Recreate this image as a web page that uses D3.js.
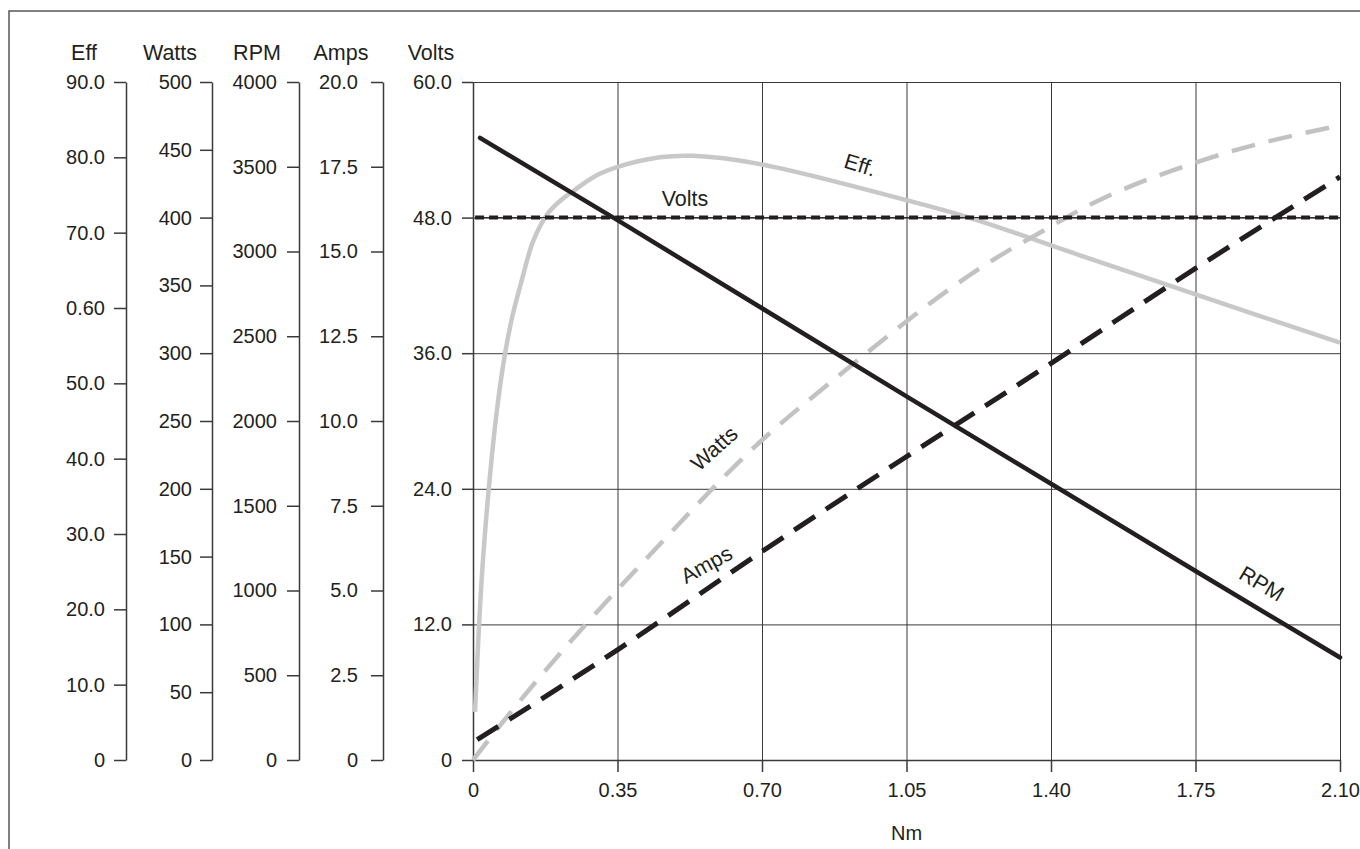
<!DOCTYPE html>
<html>
<head>
<meta charset="utf-8">
<script src="https://cdn.jsdelivr.net/npm/d3@7"></script>
<style>
  html, body { margin: 0; padding: 0; background: #fff; }
  svg { display: block; }
  text { font-family: "Liberation Sans", Arial, Helvetica, sans-serif; fill: #231f20; }
</style>
</head>
<body>
<svg id="chart" width="1360" height="849"></svg>
<script>
// ---------- data ----------
const torqueTicks  = [0, 0.35, 0.70, 1.05, 1.40, 1.75, 2.10];
const torqueLabels = ["0", "0.35", "0.70", "1.05", "1.40", "1.75", "2.10"];

const voltsTicks  = [0, 12, 24, 36, 48, 60];
const voltsLabels = ["0", "12.0", "24.0", "36.0", "48.0", "60.0"];

const effTicks  = [0, 10, 20, 30, 40, 50, 60, 70, 80, 90];
const effLabels = ["0", "10.0", "20.0", "30.0", "40.0", "50.0", "0.60", "70.0", "80.0", "90.0"];

const wattsTicks  = [0, 50, 100, 150, 200, 250, 300, 350, 400, 450, 500];
const wattsLabels = ["0", "50", "100", "150", "200", "250", "300", "350", "400", "450", "500"];

const rpmTicks  = [0, 500, 1000, 1500, 2000, 2500, 3000, 3500, 4000];
const rpmLabels = ["0", "500", "1000", "1500", "2000", "2500", "3000", "3500", "4000"];

const ampsTicks  = [0, 2.5, 5, 7.5, 10, 12.5, 15, 17.5, 20];
const ampsLabels = ["0", "2.5", "5.0", "7.5", "10.0", "12.5", "15.0", "17.5", "20.0"];

// series (torque in Nm, value in own unit)
const rpmTorque = [0.017, 0.35, 0.70, 1.05, 1.40, 1.75, 2.10];
const rpmValues = [3670, 3185, 2665, 2145, 1630, 1115, 605];

const ampsTorque = [0.01, 0.35, 0.70, 1.05, 1.40, 1.75, 2.10];
const ampsValues = [0.6, 3.25, 6.15, 8.95, 11.7, 14.5, 17.2];

const voltsTorque = [0.005, 2.10];
const voltsValues = [48, 48];

const effTorque = [0.0048, 0.0145, 0.0242, 0.0412, 0.0581, 0.0751, 0.0945, 0.1163, 0.1453, 0.1792,
                   0.2107, 0.2422, 0.2955, 0.3488, 0.4529, 0.5329, 0.6952, 1.051, 1.196, 1.470, 1.761, 2.10];
const effValues = [6.4, 17.7, 26.6, 37.8, 46.5, 53.1, 58.7, 63.3, 68.8, 72.4,
                   74.2, 75.5, 77.5, 78.7, 80.0, 80.2, 79.1, 74.3, 72.1, 67.0, 61.6, 55.4];

const wattsTorque = [0.0, 0.090, 0.349, 0.417, 0.695, 0.872, 1.259, 1.397, 1.470, 1.785, 2.10];
const wattsValues = [0, 34.7, 125.4, 147.5, 234.5, 280, 368.7, 393, 405.6, 444, 468];

// ---------- layout ----------
const svg = d3.select("#chart");
const plot = { left: 473, right: 1340, top: 82, bottom: 760 };
const ink = "#231f20";
const axisInk = "#3a3a3a";
const grey = "#c8c8c8";
const FS = 20;     // tick labels
const FL = 21.5;   // headers and series labels

// frame (top + left visible)
svg.append("rect").attr("x", 9).attr("y", 11).attr("width", 1400).attr("height", 900)
  .attr("fill", "none").attr("stroke", "#555").attr("stroke-width", 1.5);

const x = d3.scaleLinear().domain([0, 2.10]).range([plot.left, plot.right]);
const yV = d3.scaleLinear().domain([0, 60]).range([plot.bottom, plot.top]);
const yE = d3.scaleLinear().domain([0, 90]).range([plot.bottom, plot.top]);
const yW = d3.scaleLinear().domain([0, 500]).range([plot.bottom, plot.top]);
const yR = d3.scaleLinear().domain([0, 4000]).range([plot.bottom, plot.top]);
const yA = d3.scaleLinear().domain([0, 20]).range([plot.bottom, plot.top]);

// ---------- grid ----------
const grid = svg.append("g");
grid.append("g").attr("transform", `translate(${plot.left},0)`)
  .call(d3.axisLeft(yV).tickValues(voltsTicks).tickSize(-(plot.right - plot.left)).tickFormat(""))
  .call(g => g.select(".domain").remove())
  .call(g => g.selectAll("line").attr("stroke", axisInk).attr("stroke-width", 1));
grid.append("g").attr("transform", `translate(0,${plot.bottom})`)
  .call(d3.axisBottom(x).tickValues(torqueTicks).tickSize(-(plot.bottom - plot.top)).tickFormat(""))
  .call(g => g.select(".domain").remove())
  .call(g => g.selectAll("line").attr("stroke", axisInk).attr("stroke-width", 1));

// ---------- left axes ----------
const leftAxes = [
  { name: "Eff",   scale: yE, ticks: effTicks,   labels: effLabels,   x: 126, pad: 9 },
  { name: "Watts", scale: yW, ticks: wattsTicks, labels: wattsLabels, x: 212, pad: 8 },
  { name: "RPM",   scale: yR, ticks: rpmTicks,   labels: rpmLabels,   x: 299, pad: 10 },
  { name: "Amps",  scale: yA, ticks: ampsTicks,  labels: ampsLabels,  x: 383, pad: 13 },
  { name: "Volts", scale: yV, ticks: voltsTicks, labels: voltsLabels, x: 473, pad: 10 }
];
leftAxes.forEach(a => {
  const g = svg.append("g").attr("transform", `translate(${a.x},0)`)
    .call(d3.axisLeft(a.scale).tickValues(a.ticks).tickSize(a.name === "Volts" ? 11 : 12)
      .tickSizeOuter(0).tickPadding(a.pad).tickFormat((d, i) => a.labels[i]));
  g.select(".domain").attr("stroke", axisInk).attr("stroke-width", 1.5);
  g.selectAll(".tick line").attr("stroke", axisInk).attr("stroke-width", 1.5);
  g.selectAll(".tick text").attr("font-size", FS).attr("fill", ink)
    .style("font-family", '"Liberation Sans", Arial, sans-serif');
  svg.append("text").attr("x", a.x - 42).attr("y", 60).attr("text-anchor", "middle")
    .attr("font-size", FL).text(a.name);
});

// ---------- bottom axis ----------
const xa = svg.append("g").attr("transform", `translate(0,${plot.bottom})`)
  .call(d3.axisBottom(x).tickValues(torqueTicks).tickSize(12).tickSizeOuter(0).tickPadding(11)
    .tickFormat((d, i) => torqueLabels[i]));
xa.select(".domain").attr("stroke", axisInk).attr("stroke-width", 1.5);
xa.selectAll(".tick line").attr("stroke", axisInk).attr("stroke-width", 1.5);
xa.selectAll(".tick text").attr("font-size", FS).attr("fill", ink)
  .style("font-family", '"Liberation Sans", Arial, sans-serif');
svg.append("text").attr("x", x(1.05)).attr("y", 840).attr("text-anchor", "middle")
  .attr("font-size", FS).text("Nm");

// ---------- series ----------
function series(tq, vals, scale, curve) {
  const pts = tq.map((t, i) => [x(t), scale(vals[i])]);
  return d3.line().curve(curve)(pts);
}
const S = svg.append("g").attr("fill", "none");

S.append("path").attr("d", series(effTorque, effValues, yE, d3.curveCatmullRom.alpha(0.5)))
  .attr("stroke", grey).attr("stroke-width", 4.5);
S.append("path").attr("d", series(wattsTorque, wattsValues, yW, d3.curveMonotoneX))
  .attr("stroke", "#c2c2c2").attr("stroke-width", 4.5).attr("stroke-dasharray", "24,14");
S.append("path").attr("d", series(ampsTorque, ampsValues, yA, d3.curveMonotoneX))
  .attr("stroke", ink).attr("stroke-width", 5).attr("stroke-dasharray", "25,13");
S.append("path").attr("d", series(voltsTorque, voltsValues, yV, d3.curveLinear))
  .attr("stroke", ink).attr("stroke-width", 1);
S.append("path").attr("d", series(voltsTorque, voltsValues, yV, d3.curveLinear))
  .attr("stroke", ink).attr("stroke-width", 4).attr("stroke-dasharray", "9,5");
S.append("path").attr("d", series(rpmTorque, rpmValues, yR, d3.curveLinear))
  .attr("stroke", ink).attr("stroke-width", 4.5).attr("stroke-linecap", "round");

// ---------- series labels ----------
const labels = [
  { t: "Volts", x: 685, y: 206, r: 0 },
  { t: "Eff.",  x: 858, y: 172, r: 17 },
  { t: "Watts", x: 719, y: 454, r: -42 },
  { t: "Amps",  x: 710, y: 571, r: -29 },
  { t: "RPM",   x: 1258, y: 590, r: 31 }
];
labels.forEach(l => {
  svg.append("text").attr("text-anchor", "middle").attr("font-size", FL)
    .attr("transform", `translate(${l.x},${l.y}) rotate(${l.r})`).text(l.t);
});
</script>
</body>
</html>
